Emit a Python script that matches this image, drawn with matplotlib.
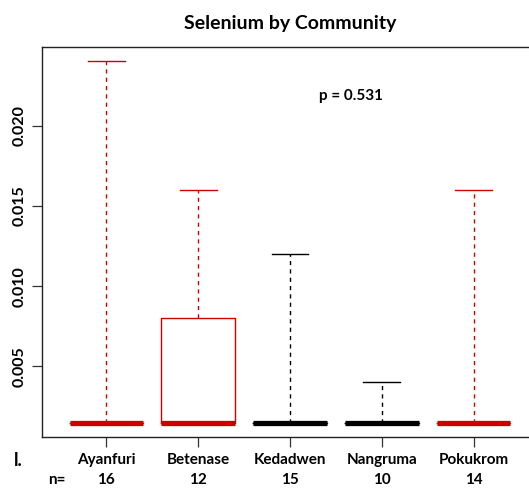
import matplotlib
matplotlib.use("Agg")
import matplotlib.pyplot as plt
from matplotlib.transforms import blended_transform_factory

communities = ["Ayanfuri", "Betenase", "Kedadwen", "Nangruma", "Pokukrom"]
counts = [16, 12, 15, 10, 14]
q1 = [0.0015, 0.0015, 0.0015, 0.0015, 0.0015]
medians = [0.0015, 0.0015, 0.0015, 0.0015, 0.0015]
q3 = [0.0015, 0.008, 0.0015, 0.0015, 0.0015]
whis_lo = [0.0015, 0.0015, 0.0015, 0.0015, 0.0015]
whis_hi = [0.024, 0.016, 0.012, 0.004, 0.016]
p_value = 0.531

RED = "#CC0000"
BLACK = "#000000"
box_colors = [RED, RED, BLACK, BLACK, RED]

plt.rcParams["font.family"] = ["Lato", "DejaVu Sans"]
plt.rcParams["font.weight"] = "bold"

fig = plt.figure(figsize=(5.29, 4.94), dpi=100)
W, H = 529, 494
left, right, top, bottom = 42, 538, 47, 437
ax = fig.add_axes([left / W, 1 - bottom / H, (right - left) / W, (bottom - top) / H])

for i, name in enumerate(communities):
    c = box_colors[i]
    stats = [{
        "med": medians[i], "q1": q1[i], "q3": q3[i],
        "whislo": whis_lo[i], "whishi": whis_hi[i], "fliers": [],
    }]
    ax.bxp(
        stats, positions=[i + 1], widths=0.8, showfliers=False,
        boxprops=dict(color=c, linewidth=1.0),
        medianprops=dict(color=c, linewidth=3.8, solid_capstyle="butt"),
        whiskerprops=dict(color=c, linewidth=1.0, linestyle=(0, (3, 3))),
        capprops=dict(color=c, linewidth=1.0),
        capwidths=0.4,
    )

ax.set_xlim(0.3, 5.7)
ax.set_ylim(0.0006, 0.0249)
ax.set_yticks([0.005, 0.010, 0.015, 0.020])
ax.set_yticklabels(["0.005", "0.010", "0.015", "0.020"], rotation=90, va="center",
                   fontsize=11.5, fontweight="bold")
ax.set_xticks(range(1, 6))
ax.set_xticklabels([])
ax.tick_params(axis="both", length=7, width=0.9, color="#333333")
ax.tick_params(axis="y", pad=4)
for sp in ax.spines.values():
    sp.set_linewidth(1.0)
    sp.set_color("#222222")

ax.set_title("Selenium by Community", fontsize=14, fontweight="bold", pad=13)
ax.text(3.66, 0.02185, f"p = {p_value}", ha="center", va="center",
        fontsize=11, fontweight="bold")

trans = blended_transform_factory(ax.transData, fig.transFigure)
name_y = 1 - 460 / H
n_y = 1 - 480 / H
for i, name in enumerate(communities):
    ax.text(i + 1, name_y, name, transform=trans, ha="center", va="center",
            fontsize=11, fontweight="bold")
    ax.text(i + 1, n_y, str(counts[i]), transform=trans, ha="center", va="center",
            fontsize=11, fontweight="bold")
fig.text(18 / W, name_y, "l.", ha="center", va="center", fontsize=13, fontweight="bold")
fig.text(57 / W, n_y, "n=", ha="center", va="center", fontsize=11, fontweight="bold")

fig.savefig("out.png", dpi=100)
